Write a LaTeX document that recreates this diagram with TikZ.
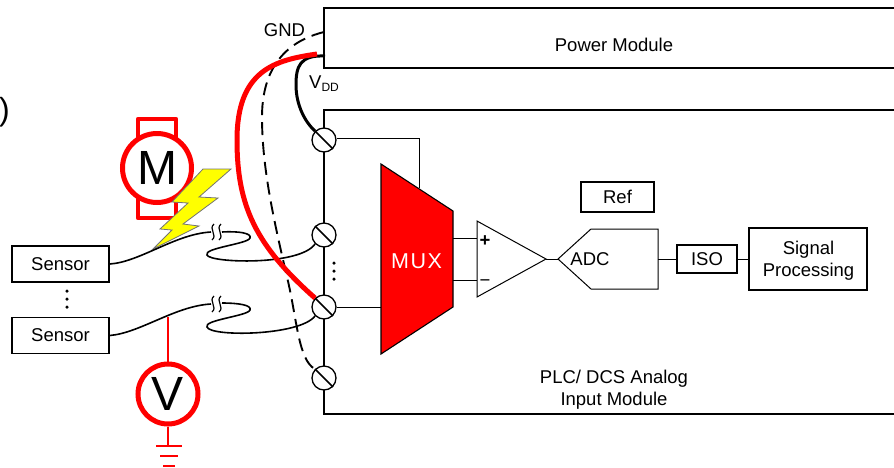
\documentclass[tikz,border=0pt]{standalone}
\usepackage{fontspec}
\setmainfont{Liberation Sans}
\usetikzlibrary{positioning,calc}
\definecolor{RojoFuerte}{RGB}{255,0,0}
\definecolor{RayoAmarillo}{RGB}{255,255,0}
\tikzset{
  blockbox/.style={draw=black, line width=1.5pt, fill=white, align=center, font=\fontsize{18.5}{22}\selectfont, inner sep=0pt},
  plaintext/.style={align=center, font=\fontsize{18.5}{22}\selectfont, inner sep=0pt},
  thickwire/.style={draw=black, line width=1.6pt},
  thinwire/.style={draw=black, line width=1pt},
  screwnode/.style={circle, draw=black, line width=1.3pt, fill=white, minimum size=24pt, inner sep=0pt},
  meternode/.style={circle, draw=RojoFuerte, line width=5pt, fill=white, inner sep=0pt, font=\fontsize{48}{48}\selectfont},
  redwire/.style={draw=RojoFuerte, line width=1.7pt},
  dotnode/.style={circle, fill=black, minimum size=3.5pt, inner sep=0pt},
}
\begin{document}
\begin{tikzpicture}[x=1pt,y=-1pt]
  \useasboundingbox (0,0) rectangle (894,467);
  % module outlines
  \draw[thickwire] (894,8) -- (324,8) -- (324,68) -- (894,68);
  \draw[thickwire] (894,110) -- (324,110) -- (324,414) -- (894,414);
  \node[plaintext] (power) at (614,44.5) {Power Module};
  \node[plaintext] (plc) at (614,389.5) {PLC/ DCS Analog\\Input Module};
  \node[plaintext, anchor=east] (paren) at (10,112) {\fontsize{32}{32}\selectfont )};
  % screws
  \node[screwnode] (s1) at (324,140) {};
  \node[screwnode] (s2) at (324,235) {};
  \node[screwnode] (s3) at (324,307) {};
  \node[screwnode] (s4) at (324,378) {};
  \foreach \scr in {s1,s2,s3,s4}
    \draw[thickwire] (\scr.north west) -- (\scr.south east);
  \foreach \yy/\nm in {263/a,271/b,279/c}
    \node[dotnode] (sd\nm) at (334,\yy) {};
  % signal chain
  \node[blockbox, minimum width=73pt, minimum height=30pt] (ref) at (617.5,197) {Ref};
  \node[blockbox, minimum width=60pt, minimum height=28pt] (iso) at (707,259) {ISO};
  \node[blockbox, minimum width=118pt, minimum height=62pt, right=10.5pt of iso] (sig) {};
  \node[plaintext] (sigtext) at (808.5,260.5) {Signal\\Processing};
  \coordinate (muxtop) at (419,188);
  \coordinate (muxin) at (381,307);
  \draw[thinwire] (s1.east |- 0,138) -- (419,138) -- (muxtop);
  \draw[thinwire] (s3.east) -- (muxin);
  \draw[line width=1.1pt, fill=RojoFuerte] (381,164) -- (453,211) -- (453,307) -- (381,354) -- cycle;
  \node[plaintext, text=white, font=\fontsize{21.5}{22}\selectfont] (mux) at (416.5,261) {M\kern1.5pt U\kern1.5pt X};
  \draw[thinwire] (453,238) -- (477,238);
  \draw[thinwire] (453,280) -- (477,280);
  \draw[thinwire, fill=white] (477,221) -- (477,297) -- (546,259) -- cycle;
  \node[plaintext] (plus) at (485,241) {\bfseries +};
  \node[plaintext] (minus) at (485,283) {−};
  \coordinate (ampout) at (546,259);
  \coordinate (adcin) at (558,259);
  \coordinate (adcout) at (658,259);
  \draw[thinwire] (ampout) -- (adcin);
  \draw[thinwire] (adcin) -- (591,229) -- (658,229) -- (658,289) -- (591,289) -- cycle;
  \node[plaintext] (adc) at (590,259) {ADC};
  \draw[thinwire] (adcout) -- (iso);
  \draw[thinwire] (iso) -- (sig);
  % motor
  \draw[draw=RojoFuerte, line width=4.5pt, line join=round, fill=white] (138,119) rectangle (176,218);
  \node[meternode, minimum size=69pt] (motor) at (157,168) {M};
  % bolt
  \draw[draw=black!55, line width=0.8pt, fill=RayoAmarillo] (203,169) -- (231,169) -- (199,197) -- (218,198) -- (183,224) -- (199,226) -- (153,249) -- (172,230) -- (160,229) -- (188,203) -- (172,202) -- cycle;
  % sensors
  \node[blockbox, minimum width=97pt, minimum height=36pt] (sen1) at (60.5,264) {Sensor};
  \node[blockbox, minimum width=97pt, minimum height=36pt, below=34pt of sen1] (sen2) {Sensor};
  \foreach \yy/\nm in {291/a,299/b,307/c}
    \node[dotnode] (d\nm) at (67,\yy) {};
  % field wiring
  \draw[thickwire] (sen1.east) .. controls (140,262) and (175,234) .. (211,232);
  \draw[thickwire] (222,232) .. controls (238,231) and (252,233) .. (250,238) .. controls (248,244) and (203,248) .. (207,255) .. controls (210,263) and (300,266) .. (s2.south west);
  \draw[thickwire] (sen2.east) .. controls (140,333) and (175,306) .. (211,304);
  \draw[thickwire] (222,303) .. controls (238,303) and (252,305) .. (250,310) .. controls (248,316) and (203,320) .. (207,327) .. controls (210,337) and (300,336) .. (s3.south west);
  \foreach \yy in {232,304} {
    \draw[line width=1.2pt] (214,\yy-8) .. controls (208,\yy-3) and (218,\yy+3) .. (212,\yy+8);
    \draw[line width=1.2pt] (221,\yy-8) .. controls (215,\yy-3) and (225,\yy+3) .. (219,\yy+8);
  }
  % voltmeter
  \node[meternode, minimum size=60pt] (volt) at (168,394) {V};
  \coordinate (tap) at (168,317);
  \coordinate (gnda) at (168,446);
  \draw[redwire] (tap) -- (volt);
  \draw[redwire] (volt) -- (gnda);
  \draw[redwire] (156,446) -- (182,446);
  \draw[redwire] (160,456) -- (178,456);
  \draw[redwire] (163,466) -- (175,466);
  % supply wires
  \node[plaintext] (gnd) at (284.5,30) {GND};
  \node[plaintext, anchor=west] (vdd) at (309,84) {V\raisebox{-3pt}{\fontsize{12}{12}\selectfont DD}};
  \coordinate (vddout) at (325,56);
  \coordinate (gndout) at (324,32);
  \draw[black, line width=1.9pt, dash pattern=on 13pt off 7pt] (gndout) .. controls (300,38) and (262,55) .. (262,117) .. controls (262,170) and (275,225) .. (287,277) .. controls (297,318) and (298,360) .. (s4.north west);
  \draw[black, line width=3pt] (vddout) .. controls (300,55) and (296,66) .. (296,85) .. controls (296,105) and (305,122) .. (s1.north west);
  \draw[RojoFuerte, line width=5pt] (317,54) .. controls (275,60) and (237,70) .. (237,140) .. controls (237,205) and (255,245) .. (s3.north west);
\end{tikzpicture}
\end{document}
